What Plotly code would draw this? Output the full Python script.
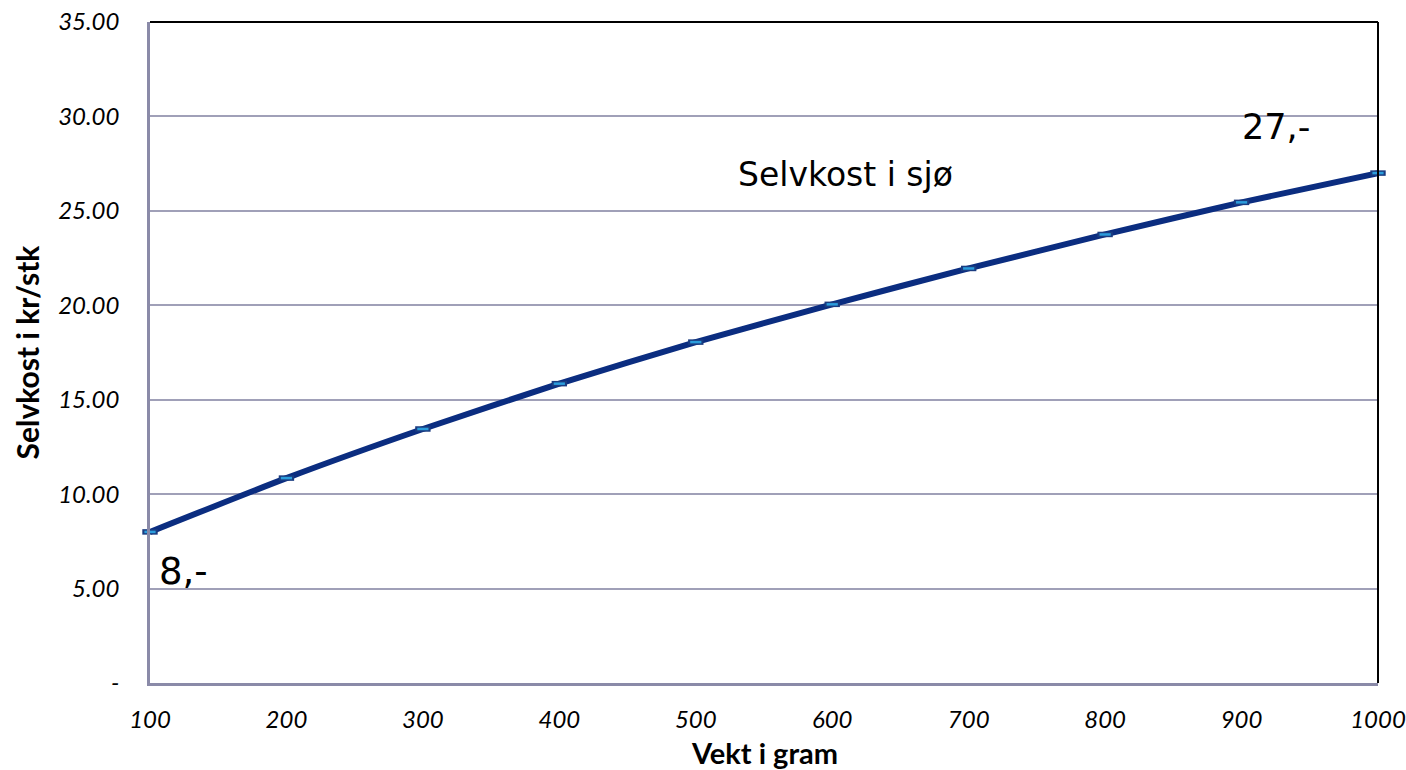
import plotly.graph_objects as go

weights = [100, 200, 300, 400, 500, 600, 700, 800, 900, 1000]
cost = [8.0, 10.85, 13.45, 15.85, 18.05, 20.05, 21.95, 23.75, 25.45, 27.0]
y_ticks = [0, 5, 10, 15, 20, 25, 30, 35]
y_tick_labels = ["-", "5.00", "10.00", "15.00", "20.00", "25.00", "30.00", "35.00"]
x_ticks = weights

fig = go.Figure()
fig.add_trace(go.Scatter(
    x=weights, y=cost, mode="lines",
    line=dict(color="#0b2d80", width=6, shape="spline", smoothing=0.6),
    cliponaxis=False, showlegend=False, hoverinfo="skip",
))
fig.add_trace(go.Scatter(
    x=weights, y=cost, mode="markers",
    marker=dict(symbol="line-ew", size=11, line=dict(color="#1a3c80", width=5.5)),
    cliponaxis=False, showlegend=False, hoverinfo="skip",
))
fig.add_trace(go.Scatter(
    x=weights, y=cost, mode="markers",
    marker=dict(symbol="line-ew", size=8, line=dict(color="#2b9ddc", width=2.5)),
    cliponaxis=False, showlegend=False,
))

fig.add_annotation(x=100, y=5.88, text="8,-", showarrow=False, xanchor="left", xshift=7,
                   font=dict(family="DejaVu Sans", size=37, color="black"))
fig.add_annotation(x=925, y=29.43, text="27,-", showarrow=False,
                   font=dict(family="DejaVu Sans", size=35, color="black"))
fig.add_annotation(x=610, y=26.9, text="Selvkost i sjø", showarrow=False,
                   font=dict(family="DejaVu Sans", size=33, color="black"))

# axis titles
fig.add_annotation(x=0.5, y=0, xref="paper", yref="paper", yshift=-69, yanchor="middle",
                   text="<b>Vekt i gram</b>", showarrow=False,
                   font=dict(family="Lato", size=29, color="black"))
fig.add_annotation(x=0, y=0.5, xref="paper", yref="paper", xshift=-124, xanchor="center",
                   yanchor="middle", textangle=-90,
                   text="<b>Selvkost i kr/stk</b>", showarrow=False,
                   font=dict(family="Lato", size=30, color="black"))

fig.update_layout(
    width=1406, height=770,
    margin=dict(l=150, r=28, t=22, b=87, autoexpand=False),
    paper_bgcolor="white", plot_bgcolor="white",
    font=dict(family="Lato", color="black"),
    xaxis=dict(
        range=[100, 1000], tickvals=x_ticks, ticktext=[str(v) for v in x_ticks],
        tickfont=dict(family="Lato", size=24, color="black", style="italic"),
        showgrid=False, zeroline=False, showline=True, linecolor="#8a8aa8", linewidth=2.5,
        ticks="", ticklabelstandoff=13, automargin=False,
    ),
    yaxis=dict(
        range=[0, 35], tickvals=y_ticks, ticktext=y_tick_labels,
        tickfont=dict(family="Lato", size=24, color="black", style="italic"),
        showgrid=True, gridcolor="#a0a0b8", gridwidth=1.5, zeroline=False,
        showline=True, linecolor="#8a8aa8", linewidth=2.5, ticks="", ticklabelstandoff=23,
        automargin=False,
    ),
)
# top and right border lines
fig.add_shape(type="line", xref="paper", yref="paper", x0=0, x1=1, y0=1, y1=1,
              line=dict(color="black", width=2))
fig.add_shape(type="line", xref="paper", yref="paper", x0=1, x1=1, y0=0, y1=1,
              line=dict(color="black", width=2))

fig.write_html("out.html", config={"displayModeBar": False},
               post_script="document.body.style.margin='0';document.body.style.overflow='hidden';")
